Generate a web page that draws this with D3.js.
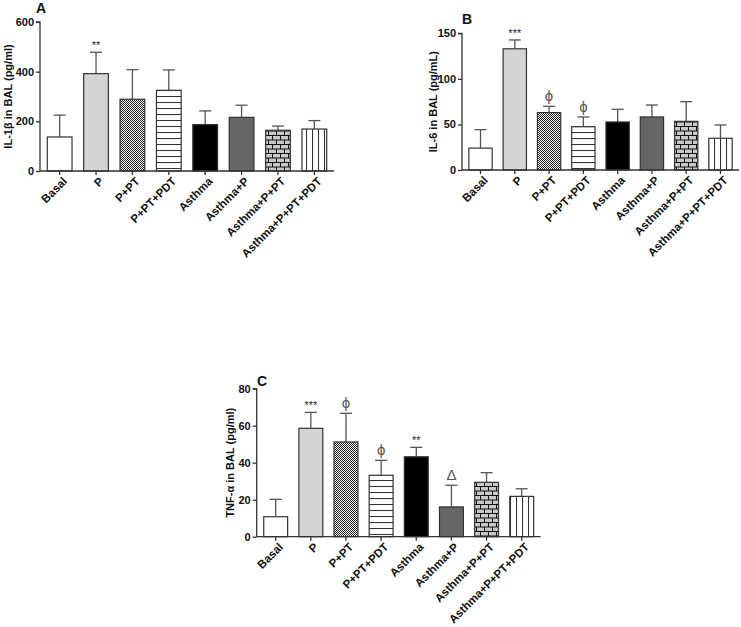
<!DOCTYPE html>
<html><head><meta charset="utf-8">
<script src="https://cdn.jsdelivr.net/npm/d3@7"></script>
<style>
body{margin:0;background:#fff;}
svg{display:block;}
text{font-family:"Liberation Sans",Arial,sans-serif;}
</style>
</head><body>
<svg id="chart" width="741" height="627"></svg>
<script>
const categories = ["Basal","P","P+PT","P+PT+PDT","Asthma","Asthma+P","Asthma+P+PT","Asthma+P+PT+PDT"];
const fills = ["white","lightgrey","checker","hlines","black","darkgrey","brick","vlines"];

const il1bMeans = [137,392,289,325,187,216,164,169];
const il1bSem   = [88,86,119,82,55,49,17,34];
const il1bAnn   = ["","**","","","","","",""];
const il1bTicks = [0,200,400,600];

const il6Means = [24,133,63,47.5,52.7,58.2,53.4,34.8];
const il6Sem   = [20.3,9.7,6.9,10.7,13.9,13.1,21.6,14.6];
const il6Ann   = ["","***","ϕ","ϕ","","","",""];
const il6Ticks = [0,50,100,150];

const tnfMeans = [10.8,58.6,51.2,33.2,43.2,16.1,29.4,21.8];
const tnfSem   = [9.4,8.6,15.5,8.1,5.1,11.7,5.2,4.1];
const tnfAnn   = ["","***","ϕ","ϕ","**","Δ","",""];
const tnfTicks = [0,20,40,60,80];

const svg = d3.select("#chart");
const defs = svg.append("defs");

// patterns
const chk = defs.append("pattern").attr("id","checker").attr("patternUnits","userSpaceOnUse").attr("width",2).attr("height",2);
chk.append("rect").attr("width",2).attr("height",2).attr("fill","#fff");
chk.append("rect").attr("width",1).attr("height",1).attr("fill","#222");
chk.append("rect").attr("x",1).attr("y",1).attr("width",1).attr("height",1).attr("fill","#222");

const hl = defs.append("pattern").attr("id","hlines").attr("patternUnits","userSpaceOnUse").attr("width",10).attr("height",6);
hl.append("rect").attr("width",10).attr("height",6).attr("fill","#fff");
hl.append("line").attr("x1",0).attr("x2",10).attr("y1",0.5).attr("y2",0.5).attr("stroke","#333").attr("stroke-width",1.1);

const vl = defs.append("pattern").attr("id","vlines").attr("patternUnits","userSpaceOnUse").attr("width",6).attr("height",10);
vl.append("rect").attr("width",6).attr("height",10).attr("fill","#fff");
vl.append("line").attr("x1",0.5).attr("x2",0.5).attr("y1",0).attr("y2",10).attr("stroke","#333").attr("stroke-width",1.1);

const br = defs.append("pattern").attr("id","brick").attr("patternUnits","userSpaceOnUse").attr("width",8).attr("height",9);
br.append("rect").attr("width",8).attr("height",9).attr("fill","#c8c8c8");
br.append("line").attr("x1",0).attr("x2",8).attr("y1",0.5).attr("y2",0.5).attr("stroke","#111");
br.append("line").attr("x1",0).attr("x2",8).attr("y1",5).attr("y2",5).attr("stroke","#111");
br.append("line").attr("x1",0.5).attr("x2",0.5).attr("y1",0).attr("y2",5).attr("stroke","#111");
br.append("line").attr("x1",4.5).attr("x2",4.5).attr("y1",5).attr("y2",9).attr("stroke","#111");

const fillMap = {white:"#fff", lightgrey:"#d4d4d4", black:"#000", darkgrey:"#666",
  checker:"url(#checker)", hlines:"url(#hlines)", vlines:"url(#vlines)", brick:"url(#brick)"};

const panels = [
  {letter:"A", means:il1bMeans, sem:il1bSem, ann:il1bAnn, ticks:il1bTicks, ymax:600,
   ylabel:"IL-1β in BAL  (pg/ml)", x0:40, x1:334, yb:171, yt:22, letterPos:[36,13], ylabX:8},
  {letter:"B", means:il6Means, sem:il6Sem, ann:il6Ann, ticks:il6Ticks, ymax:150,
   ylabel:"IL-6 in BAL (pg/mL)", x0:462, x1:739, yb:170, yt:33.3, letterPos:[462,24], ylabX:433},
  {letter:"C", means:tnfMeans, sem:tnfSem, ann:tnfAnn, ticks:tnfTicks, ymax:80,
   ylabel:"TNF-α in BAL (pg/ml)", x0:256.7, x1:540.7, yb:536.7, yt:388.7, letterPos:[257,386], ylabX:230}
];

const axisColor = "#333";

panels.forEach(p => {
  const g = svg.append("g");
  const x = d3.scaleBand().domain(categories).range([p.x0,p.x1]).paddingInner(0.32).paddingOuter(0.2);
  const y = d3.scaleLinear().domain([0,p.ymax]).range([p.yb,p.yt]);

  const data = categories.map((c,i)=>({c, m:p.means[i], s:p.sem[i], a:p.ann[i], f:fills[i]}));
  const eb = g.append("g").attr("stroke","#555").attr("stroke-width",1.3);
  data.forEach(d=>{
    const cx = x(d.c)+x.bandwidth()/2;
    eb.append("line").attr("x1",cx).attr("x2",cx).attr("y1",y(d.m)).attr("y2",y(d.m+d.s));
    eb.append("line").attr("x1",cx-6).attr("x2",cx+6).attr("y1",y(d.m+d.s)).attr("y2",y(d.m+d.s));
  });
  g.selectAll("rect.bar").data(data).enter().append("rect")
    .attr("x",d=>x(d.c)).attr("width",x.bandwidth())
    .attr("y",d=>y(d.m)).attr("height",d=>y(0)-y(d.m))
    .attr("fill",d=>fillMap[d.f]).attr("stroke","#333").attr("stroke-width",1.2);

  data.forEach(d=>{
    if(!d.a) return;
    const cx = x(d.c)+x.bandwidth()/2;
    const top = y(d.m+d.s);
    const isStar = d.a.indexOf("*")>=0;
    g.append("text").attr("x",cx).attr("y",top-(isStar?3:5))
      .attr("text-anchor","middle")
      .attr("font-size", isStar?11:15)
      .attr("font-family", isStar?"Liberation Sans, Arial, sans-serif":"DejaVu Serif, serif")
      .attr("fill", isStar?"#222":"#555")
      .text(d.a);
  });

  const ya = g.append("g").attr("transform",`translate(${p.x0},0)`)
    .call(d3.axisLeft(y).tickValues(p.ticks).tickSize(4).tickPadding(2).tickFormat(d3.format("d")));
  ya.select(".domain").attr("stroke",axisColor).attr("stroke-width",1.3).attr("d",`M-4,${p.yt}H0V${p.yb}`);
  ya.selectAll(".tick line").attr("stroke",axisColor).attr("stroke-width",1.3);
  ya.selectAll(".tick text").attr("font-size",11).attr("font-weight","bold").attr("fill","#111")
    .attr("font-family","Liberation Sans, Arial, sans-serif");

  const xa = g.append("g").attr("transform",`translate(0,${p.yb})`)
    .call(d3.axisBottom(x).tickSize(4).tickFormat(""));
  xa.select(".domain").attr("stroke",axisColor).attr("stroke-width",1.3).attr("d",`M${p.x0},0H${p.x1}`);
  xa.selectAll(".tick line").attr("stroke",axisColor).attr("stroke-width",1.3);
  categories.forEach(c=>{
    const cx = x(c)+x.bandwidth()/2;
    g.append("text")
      .attr("transform",`translate(${cx+4},${p.yb+7}) rotate(-45)`)
      .attr("text-anchor","end").attr("dy","0.5em")
      .attr("font-size",11.5).attr("font-weight","bold").attr("fill","#111")
      .text(c);
  });

  g.append("text")
    .attr("transform",`translate(${p.ylabX},${(p.yb+p.yt)/2}) rotate(-90)`)
    .attr("text-anchor","middle").attr("dy","0.35em")
    .attr("font-size",11).attr("font-weight","bold").attr("fill","#111")
    .text(p.ylabel);

  g.append("text").attr("x",p.letterPos[0]).attr("y",p.letterPos[1])
    .attr("font-size",14).attr("font-weight","bold").attr("fill","#111").text(p.letter);
});
</script>
</body></html>
